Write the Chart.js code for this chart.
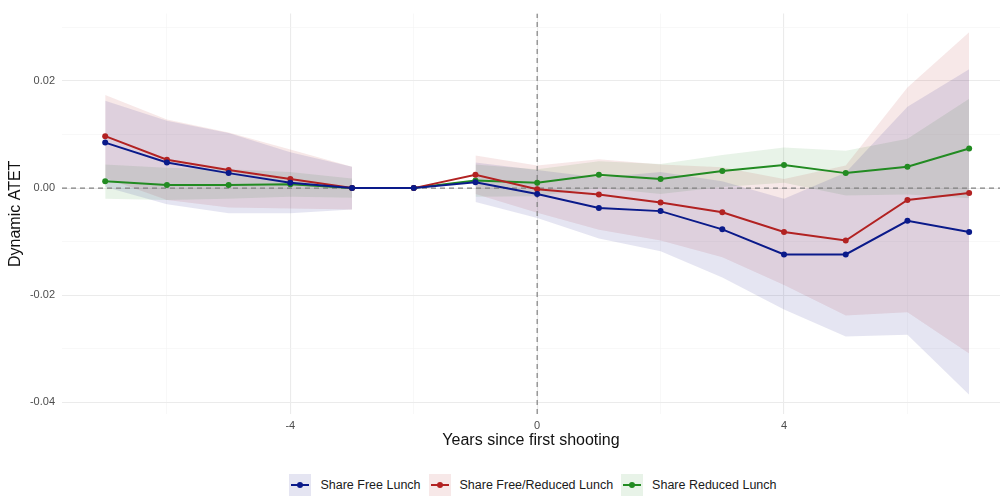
<!DOCTYPE html>
<html lang="en">
<head>
    <meta charset="UTF-8">
    <title>Dynamic ATET</title>
    <script src="https://cdn.jsdelivr.net/npm/chart.js"></script>
    <style>
        body { margin: 0; background: #fff; font-family: "Liberation Sans", Arial, sans-serif; }
        #wrap { position: relative; width: 1004px; height: 497px; }
        #legend { position: absolute; left: 62px; width: 942px; top: 474px; height: 22px;
                  display: flex; justify-content: center; align-items: center; font-size: 12.5px; color: #1a1a1a; }
        .item { display: flex; align-items: center; margin: 0 4px; }
        .key { position: relative; width: 22px; height: 22px; margin-right: 9px; }
        .key .ln { position: absolute; left: 2px; right: 2px; top: 10px; height: 2px; }
        .key .dot { position: absolute; left: 8px; top: 8px; width: 6px; height: 6px; border-radius: 50%; }
    </style>
</head>
<body>
<div id="wrap">
    <canvas id="chart" width="1004" height="470"></canvas>
    <div id="legend"></div>
</div>
<script>
// event time and estimates
const YEARS = [-7, -6, -5, -4, -3, -2, -1, 0, 1, 2, 3, 4, 5, 6, 7];

const FREE    = [0.0085, 0.0048, 0.0028, 0.0010, 0.0000, 0, 0.0011, -0.0011, -0.0037, -0.0043, -0.0077, -0.0124, -0.0124, -0.0061, -0.0082];
const FREE_LO = [0.0002, -0.0030, -0.0047, -0.0047, -0.0040, null, -0.0026, -0.0056, -0.0094, -0.0118, -0.0167, -0.0227, -0.0277, -0.0274, -0.0386];
const FREE_HI = [0.0163, 0.0126, 0.0103, 0.0067, 0.0040, null, 0.0048, 0.0034, 0.0020, 0.0030, 0.0013, -0.0020, 0.0029, 0.0152, 0.0222];

const FRL    = [0.0097, 0.0053, 0.0034, 0.0017, 0.0000, 0, 0.0025, -0.0002, -0.0012, -0.0027, -0.0045, -0.0082, -0.0098, -0.0022, -0.0009];
const FRL_LO = [0.0019, -0.0022, -0.0036, -0.0038, -0.0040, null, -0.0011, -0.0046, -0.0078, -0.0098, -0.0129, -0.0181, -0.0238, -0.0232, -0.0309];
const FRL_HI = [0.0174, 0.0128, 0.0104, 0.0072, 0.0040, null, 0.0061, 0.0042, 0.0054, 0.0044, 0.0039, 0.0017, 0.0042, 0.0188, 0.0291];

const RED    = [0.0013, 0.0006, 0.0006, 0.0007, 0.0000, 0, 0.0014, 0.0010, 0.0025, 0.0017, 0.0032, 0.0043, 0.0028, 0.0040, 0.0074];
const RED_LO = [-0.0020, -0.0022, -0.0020, -0.0016, -0.0018, null, -0.0016, -0.0015, 0.0000, -0.0011, 0.0002, 0.0010, -0.0014, -0.0012, -0.0019];
const RED_HI = [0.0044, 0.0038, 0.0035, 0.0030, 0.0018, null, 0.0044, 0.0035, 0.0050, 0.0045, 0.0062, 0.0076, 0.0070, 0.0092, 0.0167];

const LABELS = ['Share Free Lunch', 'Share Free/Reduced Lunch', 'Share Reduced Lunch'];
const COLORS = ['#0a1a8a', '#b22222', '#228b22'];
const FILLS  = ['rgba(0,0,128,0.1)', 'rgba(178,34,34,0.1)', 'rgba(34,139,34,0.1)'];

const X_TICKS = [-6, -4, -2, 0, 2, 4, 6];
const Y_TICKS = [-0.04, -0.03, -0.02, -0.01, 0, 0.01, 0.02, 0.03];
const X_MIN = -7.7, X_MAX = 7.5;
const Y_MIN = -0.0422, Y_MAX = 0.0326;

const pts = (ys, from, to) => YEARS.map((x, i) => ({ x: x, y: ys[i] }))
    .filter(p => p.x >= from && p.x <= to && p.y !== null);

const datasets = [];
const series = [[FREE, FREE_LO, FREE_HI], [FRL, FRL_LO, FRL_HI], [RED, RED_LO, RED_HI]];

series.forEach((s, k) => {
    datasets.push({
        label: LABELS[k], data: pts(s[0], -7, 7), order: 1,
        borderColor: COLORS[k], backgroundColor: COLORS[k], borderWidth: 2,
        pointRadius: 3, pointBorderWidth: 0, fill: false, tension: 0
    });
});

// reference lines
datasets.push({ data: [{ x: X_MIN, y: 0 }, { x: X_MAX, y: 0 }], order: 5, borderColor: '#808080',
    borderWidth: 1.2, borderDash: [5, 4], pointRadius: 0, fill: false });
datasets.push({ data: [{ x: 0, y: Y_MIN }, { x: 0, y: Y_MAX }], order: 5, borderColor: '#808080',
    borderWidth: 1.2, borderDash: [5, 4], pointRadius: 0, fill: false });

// confidence bands, pre and post period
series.forEach((s, k) => {
    [[-7, -3], [-1, 7]].forEach(r => {
        const n = datasets.length;
        datasets.push({ data: pts(s[2], r[0], r[1]), order: 10 + k, borderWidth: 0, pointRadius: 0,
            backgroundColor: FILLS[k], fill: n + 1 });
        datasets.push({ data: pts(s[1], r[0], r[1]), order: 10 + k, borderWidth: 0, pointRadius: 0, fill: false });
    });
});

const FONT = "'Liberation Sans', Arial, sans-serif";

new Chart(document.getElementById('chart'), {
    type: 'line',
    data: { datasets: datasets },
    options: {
        responsive: false,
        animation: false,
        devicePixelRatio: 1,
        layout: { padding: { top: 8, right: 0, left: 0, bottom: 0 } },
        plugins: { legend: { display: false }, tooltip: { enabled: false } },
        scales: {
            x: {
                type: 'linear', min: X_MIN, max: X_MAX,
                afterBuildTicks: sc => { sc.ticks = X_TICKS.map(v => ({ value: v })); },
                afterFit: sc => { sc.height = 56; },
                border: { display: false },
                grid: {
                    drawTicks: false,
                    color: c => (c.tick.value % 4 === 0 ? '#ebebeb' : '#f3f3f3'),
                    lineWidth: c => (c.tick.value % 4 === 0 ? 1.1 : 0.6)
                },
                ticks: {
                    padding: 5, color: '#4d4d4d', font: { family: FONT, size: 11 },
                    maxRotation: 0,
                    callback: v => (v % 4 === 0 ? String(v) : '')
                },
                title: { display: true, text: 'Years since first shooting', color: '#111',
                    font: { family: FONT, size: 16 }, padding: { top: 0, bottom: 20 } }
            },
            y: {
                type: 'linear', min: Y_MIN, max: Y_MAX,
                afterBuildTicks: sc => { sc.ticks = Y_TICKS.map(v => ({ value: v })); },
                afterFit: sc => { sc.width = 62; },
                border: { display: false },
                grid: {
                    drawTicks: false,
                    color: c => (Math.round(c.tick.value * 100) % 2 === 0 ? '#ebebeb' : '#f3f3f3'),
                    lineWidth: c => (Math.round(c.tick.value * 100) % 2 === 0 ? 1.1 : 0.6)
                },
                ticks: {
                    padding: 7, color: '#4d4d4d', font: { family: FONT, size: 11 },
                    callback: v => (Math.round(v * 100) % 2 === 0 ? v.toFixed(2) : '')
                },
                title: { display: true, text: 'Dynamic ATET', color: '#111',
                    font: { family: FONT, size: 16 }, padding: { top: 6, bottom: 0 } }
            }
        }
    }
});

// legend below the panel
const legend = document.getElementById('legend');
LABELS.forEach((name, k) => {
    const item = document.createElement('div');
    item.className = 'item';
    item.innerHTML = '<div class="key" style="background:' + FILLS[k] + '">' +
        '<div class="ln" style="background:' + COLORS[k] + '"></div>' +
        '<div class="dot" style="background:' + COLORS[k] + '"></div></div><span>' + name + '</span>';
    legend.appendChild(item);
});
</script>
</body>
</html>
